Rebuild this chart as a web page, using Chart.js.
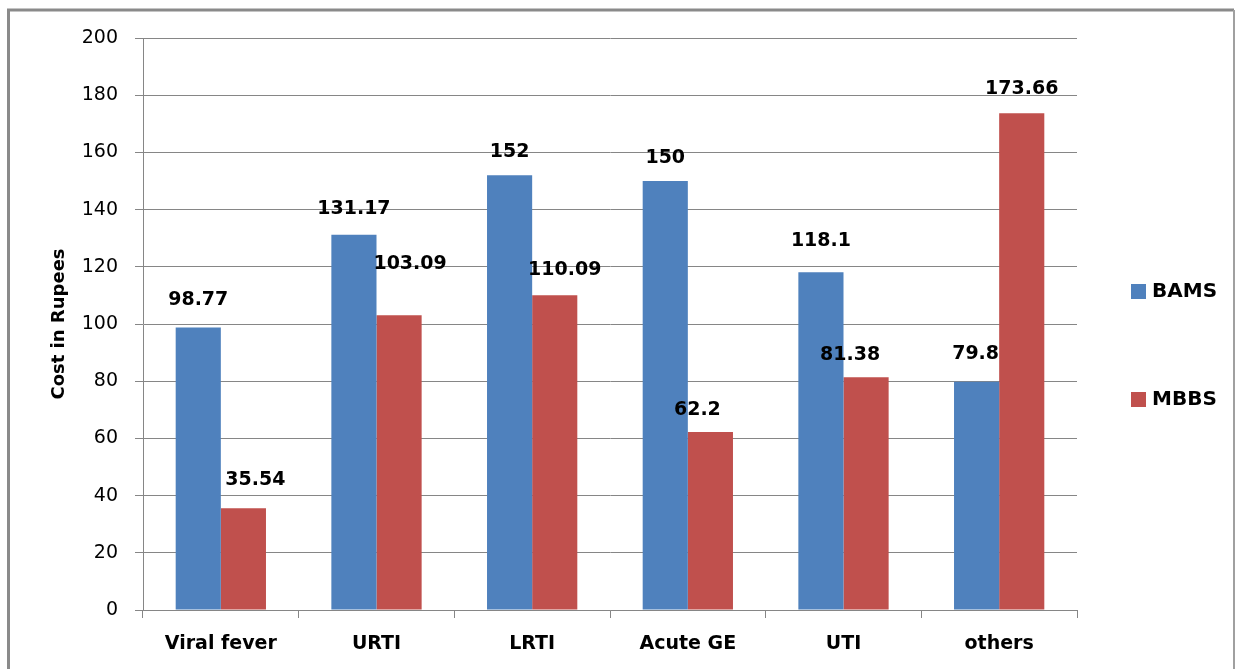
<!DOCTYPE html>
<html>
<head>
<meta charset="utf-8">
<script src="https://cdn.jsdelivr.net/npm/chart.js@4.4.1/dist/chart.umd.min.js"></script>
<style>
  html, body { margin: 0; padding: 0; background: #fff; }
  #wrap { width: 1236px; height: 669px; }
</style>
</head>
<body>
<div id="wrap"><canvas id="c" width="1236" height="669"></canvas></div>
<script>
// Treatment categories and average cost per prescriber group
const categories = ['Viral fever', 'URTI', 'LRTI', 'Acute GE', 'UTI', 'others'];
const bamsCost = [98.77, 131.17, 152, 150, 118.1, 79.8];
const mbbsCost = [35.54, 103.09, 110.09, 62.2, 81.38, 173.66];
const seriesNames = ['BAMS', 'MBBS'];
const yTicks = [0, 20, 40, 60, 80, 100, 120, 140, 160, 180, 200];

// Hand-placed data labels: [dx, dy] of the label centre from the bar's top centre
const bamsLabelShift = [[0, -30], [0, -28], [0, -25], [0, -25], [0, -33], [-1, -30]];
const mbbsLabelShift = [[12, -30], [11, -53], [10, -27], [-13, -24], [-16, -24], [0, -26]];

const BLUE = '#4F81BD';
const RED = '#C0504D';
const GRID = '#868686';
const FONT = '"DejaVu Sans", Verdana, sans-serif';

// White page with the frame around the figure
const framePlugin = {
  id: 'frame',
  beforeDraw(chart) {
    const ctx = chart.ctx;
    ctx.save();
    ctx.fillStyle = '#fff';
    ctx.fillRect(0, 0, chart.width, chart.height);
    ctx.strokeStyle = '#8a8a8a';
    ctx.lineWidth = 3;
    ctx.beginPath();
    ctx.moveTo(8.5, chart.height + 2);
    ctx.lineTo(8.5, 10);
    ctx.lineTo(1234, 10);
    ctx.stroke();
    ctx.lineWidth = 2;
    ctx.strokeStyle = '#a0a0a0';
    ctx.beginPath();
    ctx.moveTo(1234, 10);
    ctx.lineTo(1234, chart.height + 2);
    ctx.stroke();
    ctx.restore();
  }
};

// Value printed above every bar
const valueLabels = {
  id: 'valueLabels',
  afterDatasetsDraw(chart) {
    const ctx = chart.ctx;
    const shifts = [bamsLabelShift, mbbsLabelShift];
    ctx.save();
    ctx.font = 'bold 19px ' + FONT;
    ctx.fillStyle = '#000';
    ctx.textAlign = 'center';
    ctx.textBaseline = 'alphabetic';
    chart.data.datasets.forEach((ds, di) => {
      chart.getDatasetMeta(di).data.forEach((bar, i) => {
        const [dx, dy] = shifts[di][i];
        ctx.fillText(String(ds.data[i]), bar.x + dx, bar.y + dy + 7);
      });
    });
    ctx.restore();
  }
};

// Legend on the right, one entry per series
const sideLegend = {
  id: 'sideLegend',
  afterDraw(chart) {
    const ctx = chart.ctx;
    const rows = [292, 400];
    ctx.save();
    ctx.font = 'bold 20px ' + FONT;
    ctx.textBaseline = 'middle';
    ctx.textAlign = 'left';
    chart.data.datasets.forEach((ds, i) => {
      const y = rows[i];
      ctx.fillStyle = ds.backgroundColor;
      ctx.fillRect(1131, y - 8, 15, 15);
      ctx.fillStyle = '#000';
      ctx.fillText(ds.label, 1152, y);
    });
    ctx.restore();
  }
};

new Chart(document.getElementById('c'), {
  type: 'bar',
  data: {
    labels: categories,
    datasets: [
      { label: seriesNames[0], data: bamsCost, backgroundColor: BLUE },
      { label: seriesNames[1], data: mbbsCost, backgroundColor: RED }
    ]
  },
  options: {
    responsive: false,
    animation: false,
    devicePixelRatio: 1,
    layout: { padding: { left: 45, right: 159, top: 38, bottom: 9 } },
    datasets: { bar: { categoryPercentage: 0.58, barPercentage: 1.0 } },
    plugins: {
      legend: { display: false },
      tooltip: { enabled: false }
    },
    scales: {
      x: {
        grid: {
          offset: true,
          drawOnChartArea: false,
          drawTicks: true,
          tickLength: 8,
          color: GRID
        },
        border: { color: GRID, width: 1 },
        ticks: {
          color: '#000',
          padding: 15,
          font: { family: FONT, size: 19, weight: 'bold' }
        },
        afterFit(scale) { scale.height = 50; }
      },
      y: {
        min: 0,
        max: 200,
        afterBuildTicks(scale) { scale.ticks = yTicks.map(v => ({ value: v })); },
        grid: { color: GRID, tickLength: 8, drawTicks: true },
        border: { color: GRID, width: 1 },
        ticks: {
          color: '#000',
          padding: 17,
          font: { family: FONT, size: 19 }
        },
        title: {
          display: true,
          text: 'Cost in Rupees',
          color: '#000',
          font: { family: FONT, size: 18, weight: 'bold' },
          padding: { top: 4, bottom: 4 }
        },
        afterFit(scale) { scale.width = 98; }
      }
    }
  },
  plugins: [framePlugin, valueLabels, sideLegend]
});
</script>
</body>
</html>
